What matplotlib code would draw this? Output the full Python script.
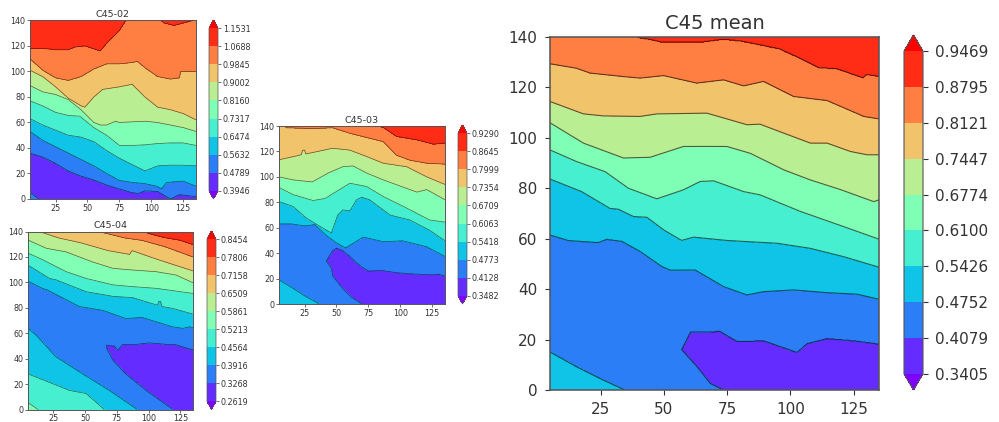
import numpy as np
import matplotlib
matplotlib.use("Agg")
import matplotlib.pyplot as plt

W, H = 999, 422

# colorbar levels
levels_02 = [0.3946, 0.4789, 0.5632, 0.6474, 0.7317, 0.8160, 0.9002, 0.9845, 1.0688, 1.1531]
levels_03 = [0.3482, 0.4128, 0.4773, 0.5418, 0.6063, 0.6709, 0.7354, 0.7999, 0.8645, 0.9290]
levels_04 = [0.2619, 0.3268, 0.3916, 0.4564, 0.5213, 0.5861, 0.6509, 0.7158, 0.7806, 0.8454]
levels_mean = [0.3405, 0.4079, 0.4752, 0.5426, 0.6100, 0.6774, 0.7447, 0.8121, 0.8795, 0.9469]

x_ticks = [25, 50, 75, 100, 125]
y_ticks = [0, 20, 40, 60, 80, 100, 120, 140]

# contour lines as (x, y), one list per level, bottom level first
c02_upper = [
    [(5, 36), (15, 33), (25, 28), (35, 22), (45, 18), (55, 15), (65, 11), (75, 8), (85, 5), (90, 4.5), (95, 6.5), (105, 6), (115, 0), (122, 3.5), (135, 2)],
    [(5, 53), (15, 46), (25, 41), (35, 36), (45, 31), (55, 26), (65, 20), (75, 14.5), (85, 13), (95, 12), (104, 10), (108, 8), (112, 13), (125, 14), (135, 10)],
    [(5, 63), (15, 58), (25, 54), (35, 50), (45, 48.5), (55, 45), (65, 38), (75, 32), (85, 27), (95, 22), (105, 26), (115, 26.5), (125, 26.5), (135, 26)],
    [(5, 77), (15, 73), (25, 68), (35, 65.5), (44, 65), (55, 56), (65, 50), (75, 42), (85, 42), (95, 42.5), (105, 43.5), (115, 44), (125, 44), (135, 42)],
    [(5, 89), (15, 84), (25, 82), (35, 78), (45, 70), (55, 60), (60, 58), (65, 58), (72, 61), (75, 60), (85, 60.5), (95, 61), (105, 60), (115, 58), (125, 56), (135, 53)],
    [(5, 101), (15, 96), (25, 88), (35, 79), (45, 73), (48, 72), (55, 80), (62, 86), (75, 88), (85, 90), (95, 80), (105, 72), (115, 70), (125, 67), (135, 62)],
    [(5, 110), (15, 101), (25, 95), (35, 93), (45, 96), (55, 102), (65, 106), (75, 106), (85, 107), (89, 108), (95, 103), (105, 96), (115, 94), (122, 95), (123, 100), (135, 100)],
    [(5, 118), (15, 118), (25, 117), (35, 117), (40, 119), (48, 120), (60, 116), (65, 122), (75, 132), (80, 140), (81, 142), (105, 142), (110, 138), (118, 136), (125, 138), (133, 140), (135, 141)],
]
c02_lower = {1: [(5, 5), (12, 0), (14, -5)]}

c03_upper = [
    [(41.5, -5), (42, 34), (47, 42), (50, 44), (55, 42), (60, 38), (65, 33), (70, 29), (75, 26), (85, 26.5), (95, 25), (105, 24), (115, 23.5), (125, 23), (130, 23.5), (135, 22)],
    [(5, 63), (15, 63), (25, 61.5), (33, 62.5), (42, 54), (50, 48), (57, 44), (71, 52.6), (86.7, 49), (102, 49.7), (120.7, 45), (135, 37.4)],
    [(5, 80.6), (16, 76.7), (26.5, 67.5), (37, 61), (46, 55.8), (51, 70), (55, 74), (60.5, 73.3), (65.7, 82), (69.7, 84), (76, 82), (92, 70), (107.7, 66), (123, 58), (135, 49.7)],
    [(5, 91.6), (16, 86), (31.7, 81.4), (41, 83), (50, 88.5), (60.5, 95), (73.6, 92.4), (86.7, 84.5), (105, 75.4), (123, 66), (135, 64.4)],
    [(5, 100), (16, 97.6), (31, 96), (43.5, 103), (55, 108), (63, 108.6), (73.6, 103), (86.7, 97.6), (113, 88), (120.7, 90), (135, 82)],
    [(5, 113.4), (21, 117), (22.5, 117.5), (23.5, 121), (25, 121), (26, 118), (47, 122.5), (60.5, 121), (73.6, 116), (86.7, 110.7), (105, 108), (120.7, 100), (135, 94)],
    [(9, 141), (10.8, 138.7), (31.7, 138), (47, 138.7), (60.5, 134.3), (73.6, 131), (86.7, 127.7), (97, 117), (107.7, 113), (120.7, 110.7), (135, 110)],
    [(83, 141), (84, 139.5), (86.7, 138.7), (97, 131.7), (113, 129), (126, 125.6), (135, 126.4)],
]
c03_lower = {
    1: [(42, 34), (46, 28), (47, 22), (55, 12), (62, 5), (70, 0), (73, -5)],
    2: [(5, 19), (15, 13), (25, 6.5), (35, 1), (36.5, 0), (40, -5)],
}

c04_upper = [
    [(66.5, -5), (67, 50.6), (73, 50), (75.7, 46.7), (79.6, 51.4), (87.5, 51), (100.5, 52.5), (113.6, 51.4), (121.5, 51), (135, 47)],
    [(5, 101), (17, 95), (19.4, 94.5), (45.6, 81), (64, 78), (82, 71.6), (95, 72.4), (119, 65), (127, 63.8), (132, 65), (135, 64.5)],
    [(5, 113.6), (22, 103), (27, 102), (51, 92.6), (72, 89), (87.5, 88), (107, 82), (108, 85), (109.5, 85), (110.5, 81), (119, 79.5), (135, 75)],
    [(5, 123), (17, 117.6), (35, 108.4), (51, 103), (72, 98), (87.5, 96.6), (106, 95.3), (135, 91.3)],
    [(5, 133.3), (19.4, 126.8), (35, 124), (56, 116), (72, 111), (87.5, 109.7), (106, 108.4), (121.5, 105.8), (135, 99.7)],
    [(13, 141), (14, 140), (29, 135), (47, 131), (68, 125), (85, 122), (87, 125), (107, 118), (135, 109)],
    [(54, 141), (55, 140), (65, 139), (81, 135), (95, 133), (113, 128), (135, 120)],
    [(94, 141), (95, 140), (105, 137), (113, 135), (125, 133), (135, 129.5)],
]
c04_lower = {
    1: [(67, 48), (71.8, 38.8), (82, 28), (98, 15), (119, 0), (122, -5)],
    2: [(5, 64), (11.5, 58.5), (27, 41.5), (48, 28), (69, 15), (91, 0), (95, -5)],
    3: [(5, 28), (20.7, 21.8), (37.7, 15), (50.8, 12.6), (65, 0), (68, -5)],
    4: [(5, 5.5), (13, 0), (16, -5)],
}

mean_upper = [
    [(56.5, -5), (57, 16), (60.4, 23), (68, 23), (72, 23.4), (79, 19.3), (89.4, 19.6), (102.6, 15), (106.6, 18.5), (114.5, 20.5), (125, 19.6), (135, 18.3)],
    [(5, 61.5), (12.3, 59.3), (24, 58.5), (27.4, 59.8), (33.4, 59), (40.6, 55), (49.2, 49), (52.5, 47.6), (62.4, 47.6), (73.6, 41), (82.8, 37.7), (89.4, 39), (101.3, 39.7), (114.5, 38.6), (126.4, 38), (135, 36)],
    [(5, 83.7), (17.5, 78.7), (28.7, 72), (32, 71.7), (38, 68.8), (43.3, 68.5), (49.9, 63.5), (57, 59.3), (61.7, 60.6), (74.9, 59.3), (94.7, 58.2), (107.8, 56.2), (121, 52.9), (135, 48.7)],
    [(5, 95.2), (15.5, 90.6), (26.8, 86.6), (36, 80), (47.2, 75.8), (57.7, 79.4), (64.3, 82.7), (69.6, 83), (81.5, 78.7), (88, 77.4), (104, 70.8), (121, 64.8), (135, 59.8)],
    [(5, 106), (18.2, 97.9), (34, 92), (44.6, 92.3), (57.7, 96.6), (74.9, 96.6), (84.1, 93.9), (97.4, 87.3), (107.9, 83.3), (120, 79.4), (132.9, 74.7), (135, 75.4)],
    [(5, 114.4), (18.2, 109.5), (26, 108.7), (40.6, 108.5), (47.2, 109.5), (67, 109.8), (82.8, 105.2), (88, 105.4), (107.9, 97.9), (114.5, 97.9), (123.7, 94.6), (130.3, 93.3), (135, 93.3)],
    [(5, 129.4), (15.5, 127.6), (20.8, 125.7), (34, 124.3), (40.6, 123.7), (49.9, 124.7), (63, 121.7), (73.6, 123), (81.5, 120.6), (89.4, 122.4), (101.3, 116.4), (114.5, 114.8), (129, 108.5), (135, 107.5)],
    [(38, 141), (40, 139.6), (44.6, 138.9), (48.5, 138), (64.4, 137.8), (73.6, 139), (81, 138.2), (95.6, 135.2), (103.5, 131.6), (111.5, 127.6), (118, 127.4), (128.7, 123.7), (130, 125), (135, 124.3)],
]
mean_lower = {
    1: [(57, 16), (63, 9.3), (68.3, 2.6), (73.3, 0), (75, -5)],
    2: [(5, 15.2), (15.5, 9.3), (24.8, 4.6), (34.7, 0), (38, -5)],
}

xs = np.arange(5, 135.25, 0.25)
ys = np.arange(0, 140.25, 0.25)


def line_at(points):
    px, py = zip(*points)
    return np.interp(xs, px, py)


# rebuild a field whose contours follow the lines
def build_field(upper, lower, levels):
    up_h = np.array([line_at(p) for p in upper])
    lo_ids = sorted(lower)
    lo_h = np.array([line_at(lower[k]) for k in lo_ids])
    # keep the lower lines stacked, highest level at the bottom
    lo_h = np.maximum.accumulate(lo_h[::-1], axis=0)[::-1]
    z = np.zeros((len(ys), len(xs)))
    up_lv = [(levels[0] + levels[1]) / 2] + list(levels[1:9]) + [(levels[8] + levels[9]) / 2]
    lo_lv = [levels[k] for k in lo_ids]
    for j in range(len(xs)):
        h = np.maximum.accumulate(up_h[:, j]) + np.arange(8) * 1e-4
        z_up = np.interp(ys, np.r_[-1000, h, 1000], up_lv)
        h2 = lo_h[:, j][::-1] + np.arange(len(lo_ids)) * -1e-4
        h2 = np.sort(h2)
        z_lo = np.interp(ys, np.r_[-1000, h2, 1000], [levels[9]] + lo_lv[::-1] + [levels[0] - 1])
        z[:, j] = np.maximum(z_up, z_lo)
    return z


def box(left, top, right, bottom):
    return [left / W, 1 - bottom / H, (right - left) / W, (bottom - top) / H]


def panel(fig, title, upper, lower, levels, ax_px, cax_px, tick_fs, title_fs, title_pad, lw, tick_len, tick_pad):
    ax = fig.add_axes(box(*ax_px))
    cax = fig.add_axes(box(*cax_px))
    z = build_field(upper, lower, levels)
    cf = ax.contourf(xs, ys, z, levels=levels, cmap="rainbow", extend="both")
    ax.contour(xs, ys, z, levels=levels, colors="black", linewidths=lw, alpha=0.6)
    ax.set_title(title, fontsize=title_fs, color="#333333", pad=title_pad)
    ax.set_xticks(x_ticks)
    ax.set_yticks(y_ticks)
    ax.tick_params(labelsize=tick_fs, length=tick_len, width=lw, colors="#333333", pad=tick_pad)
    for s in ax.spines.values():
        s.set_linewidth(lw * 1.4)
        s.set_color("#555555")
    cb = fig.colorbar(cf, cax=cax, ticks=levels, format="%.4f")
    cb.ax.tick_params(labelsize=tick_fs, length=tick_len, width=lw, colors="#333333", pad=tick_pad)
    cb.outline.set_linewidth(lw)
    cb.outline.set_edgecolor("#555555")


fig = plt.figure(figsize=(W / 100, H / 100), dpi=100)

panel(fig, "C45-02", c02_upper, c02_lower, levels_02, (30, 20.5, 196, 199), (209, 20, 218, 199), 5.8, 6.8, 2.5, 0.5, 2, 1.5)
panel(fig, "C45-03", c03_upper, c03_lower, levels_03, (279, 126, 445, 304), (458, 125, 467, 304), 5.8, 6.8, 2.5, 0.5, 2, 1.5)
panel(fig, "C45-04", c04_upper, c04_lower, levels_04, (28, 231.5, 193, 409.5), (207, 231, 216, 409.5), 5.8, 6.8, 2.5, 0.5, 2, 1.5)
panel(fig, "C45 mean", mean_upper, mean_lower, levels_mean, (550, 37, 879, 390), (904, 35, 923, 390), 11, 14, 6, 0.8, 3.5, 5.5)

fig.savefig("out.png", dpi=100)
